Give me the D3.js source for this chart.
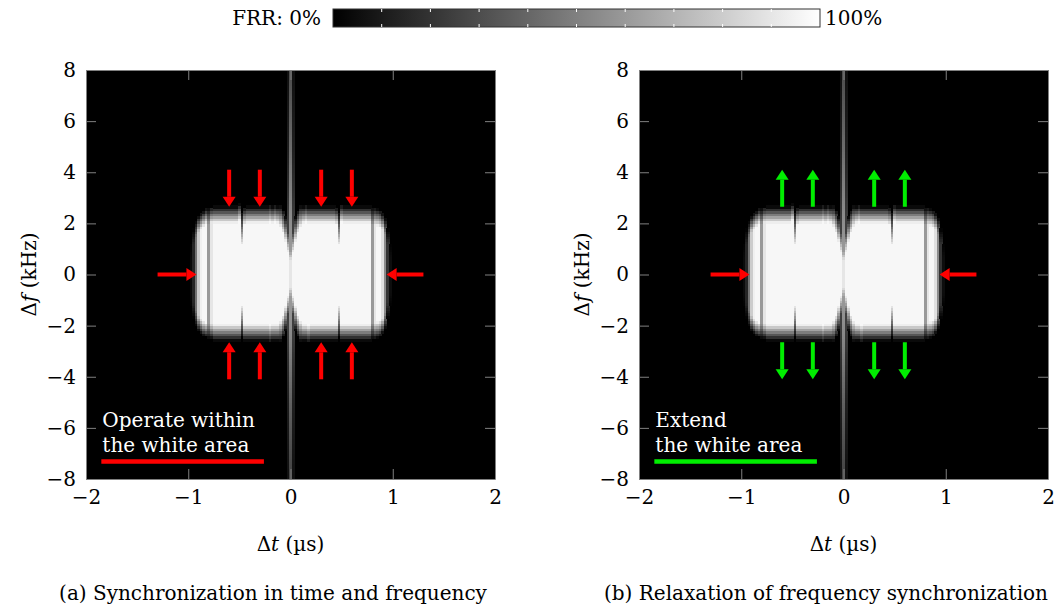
<!DOCTYPE html>
<html>
<head>
<meta charset="utf-8">
<script src="https://cdn.jsdelivr.net/npm/d3@7"></script>
<style>
  body { margin: 0; background: #fff; }
  text { font-family: "DejaVu Serif", serif; font-size: 20px; fill: #000; }
</style>
</head>
<body>
<svg id="chart" width="1059" height="608"></svg>
<script>
// ticks
const timeTicks = [-2, -1, 0, 1, 2];
const freqTicks = [-8, -6, -4, -2, 0, 2, 4, 6, 8];
const frrTicks = [0, 10, 20, 30, 40, 50, 60, 70, 80, 90, 100];

// white area, read column by column (dt = -1 ... 1 us, step 0.025 us)
// FRR inside the area (%)
const colLevel = [
  0, 4, 15, 45, 80, 94, 97, 97, 60, 90,     // -1.000 .. -0.775
  97, 97, 97, 97, 97, 97, 97, 97, 97, 97,   // -0.750 .. -0.525
  97, 97, 97, 97, 97, 97, 97, 97, 97, 97,   // -0.500 .. -0.275
  97, 97, 97, 97, 97, 97, 97, 97, 97, 97,   // -0.250 .. -0.025
  90,                                       //  0
  97, 97, 97, 97, 97, 97, 97, 97, 97, 97,   //  0.025 .. 0.250
  97, 97, 97, 97, 97, 97, 97, 97, 97, 97,   //  0.275 .. 0.500
  97, 97, 97, 97, 97, 97, 97, 97, 97, 97,   //  0.525 .. 0.750
  97, 60, 90, 97, 97, 88, 55, 20, 5, 0      //  0.775 .. 1.000
];
// upper edge of the white area (kHz, half level)
const colTop = [
  0, 1.0, 1.5, 1.8, 2.0, 2.1, 2.2, 2.3, 2.3, 2.35,
  2.35, 2.35, 2.35, 2.35, 2.35, 2.35, 2.35, 2.35, 2.35, 2.35,
  2.45, 1.8, 2.3, 2.35, 2.35, 2.35, 2.35, 2.35, 2.35, 2.35,
  2.35, 2.35, 2.4, 2.35, 2.4, 2.35, 2.3, 2.1, 1.8, 1.4,
  1.1,
  1.4, 1.8, 2.1, 2.3, 2.35, 2.4, 2.35, 2.35, 2.35, 2.35,
  2.35, 2.35, 2.35, 2.35, 2.35, 2.35, 2.35, 2.3, 1.8, 2.4,
  2.35, 2.35, 2.35, 2.35, 2.35, 2.35, 2.35, 2.35, 2.35, 2.35,
  2.35, 2.3, 2.3, 2.25, 2.2, 2.1, 1.9, 1.5, 1.0, 0
];
// lower edge of the white area (kHz, half level)
const colBot = [
  0, -1.0, -1.4, -1.7, -1.9, -2.0, -2.1, -2.15, -2.2, -2.2,
  -2.25, -2.25, -2.25, -2.25, -2.25, -2.25, -2.25, -2.25, -2.25, -2.25,
  -2.25, -1.8, -2.25, -2.25, -2.25, -2.25, -2.25, -2.25, -2.25, -2.25,
  -2.25, -2.25, -2.3, -2.25, -2.25, -2.25, -2.2, -2.0, -1.7, -1.3,
  -1.0,
  -1.3, -1.7, -2.0, -2.2, -2.25, -2.25, -2.3, -2.25, -2.25, -2.25,
  -2.25, -2.25, -2.25, -2.25, -2.25, -2.25, -2.25, -2.25, -1.8, -2.25,
  -2.25, -2.25, -2.25, -2.25, -2.25, -2.25, -2.25, -2.25, -2.25, -2.25,
  -2.25, -2.2, -2.2, -2.15, -2.1, -2.0, -1.8, -1.4, -1.0, 0
];
// width of the fuzzy border (kHz)
const colSoft = [
  0.6, 0.6, 0.6, 0.6, 0.6, 0.6, 0.6, 0.6, 0.6, 0.6,
  0.65, 0.65, 0.65, 0.65, 0.65, 0.65, 0.65, 0.65, 0.65, 0.65,
  0.65, 1.3, 0.65, 0.65, 0.65, 0.65, 0.65, 0.65, 0.65, 0.65,
  0.65, 0.65, 0.65, 0.65, 0.65, 0.65, 0.8, 0.9, 1.0, 1.0,
  1.0,
  1.0, 1.0, 0.9, 0.8, 0.65, 0.65, 0.65, 0.65, 0.65, 0.65,
  0.65, 0.65, 0.65, 0.65, 0.65, 0.65, 0.65, 0.65, 1.3, 0.65,
  0.65, 0.65, 0.65, 0.65, 0.65, 0.65, 0.65, 0.65, 0.65, 0.65,
  0.65, 0.65, 0.65, 0.65, 0.65, 0.6, 0.6, 0.6, 0.6, 0.6
];

// grey stripe along dt = 0 (FRR % at each kHz)
const stripeF = [-8, -7, -6, -5, -4, -3, -2, -1, 0, 1, 2, 3, 4, 5, 6, 7, 8];
const stripeMid = [26, 30, 34, 38, 44, 50, 55, 60, 65, 60, 56, 52, 48, 42, 38, 34, 30];
const stripeSide = [6, 8, 10, 12, 16, 20, 24, 26, 28, 26, 24, 20, 16, 12, 10, 8, 6];

// annotation arrows (data coords)
const vArrowT = [-0.6, -0.3, 0.3, 0.6];
const hArrows = [[-1.3, -0.92], [1.3, 0.94]];

const W = 1059, H = 608;
const svg = d3.select('#chart');
svg.append('rect').attr('width', W).attr('height', H).attr('fill', '#fff');

const gray = d3.scaleLinear().domain([0, 100]).range(['#000', '#fff']);
const midAt = d3.scaleLinear().domain(stripeF).range(stripeMid);
const sideAt = d3.scaleLinear().domain(stripeF).range(stripeSide);
const clamp = v => Math.max(0, Math.min(1, v));

const dT = 0.025, dF = 0.1;
const colT = colLevel.map((_, i) => -1 + i * dT);
const rowF = d3.range(160).map(i => -8 + dF / 2 + i * dF);

const cells = [];
colT.forEach((t, i) => {
  rowF.forEach(f => {
    const s = colSoft[i];
    const a = clamp((colTop[i] - f) / s + 0.5);
    const b = clamp((f - colBot[i]) / s + 0.5);
    let v = colLevel[i] * a * b;
    if (i === 40) v = Math.max(v, midAt(f));
    if (i === 39 || i === 41) v = Math.max(v, sideAt(f));
    if (v > 0.5) cells.push({t, f, v});
  });
});

// colour bar
const cb = d3.scaleLinear().domain([0, 100]).range([333, 820]);
const grad = svg.append('defs').append('linearGradient').attr('id', 'frr');
grad.selectAll('stop').data(frrTicks).join('stop')
  .attr('offset', d => d + '%')
  .attr('stop-color', d => gray(d));
svg.append('rect')
  .attr('x', cb(0)).attr('y', 9)
  .attr('width', cb(100) - cb(0)).attr('height', 18)
  .attr('fill', 'url(#frr)')
  .attr('stroke', '#333').attr('stroke-width', 1);
const inner = frrTicks.slice(1, -1);
svg.selectAll('line.cbt').data(inner).join('line')
  .attr('class', 'cbt')
  .attr('x1', d => cb(d)).attr('x2', d => cb(d))
  .attr('y1', 9).attr('y2', 12)
  .attr('stroke', '#fff').attr('stroke-width', 1);
svg.selectAll('line.cbb').data(inner).join('line')
  .attr('class', 'cbb')
  .attr('x1', d => cb(d)).attr('x2', d => cb(d))
  .attr('y1', 24).attr('y2', 27)
  .attr('stroke', '#fff').attr('stroke-width', 1);
svg.append('text').attr('x', 321).attr('y', 25).attr('text-anchor', 'end').text('FRR: 0%');
svg.append('text').attr('x', 825).attr('y', 25).text('100%');

function arrow(g, x1, y1, x2, y2, color) {
  const ang = Math.atan2(y2 - y1, x2 - x1);
  const hl = 10, hw = 6.5;
  const bx = x2 - hl * Math.cos(ang), by = y2 - hl * Math.sin(ang);
  g.append('line')
    .attr('x1', x1).attr('y1', y1).attr('x2', bx).attr('y2', by)
    .attr('stroke', color).attr('stroke-width', 4);
  const px = -Math.sin(ang) * hw, py = Math.cos(ang) * hw;
  g.append('path')
    .attr('d', `M${x2},${y2}L${bx + px},${by + py}L${bx - px},${by - py}Z`)
    .attr('fill', color);
}

const panels = [
  {left: 86, cap: '(a) Synchronization in time and frequency', capX: 273,
   lines: ['Operate within', 'the white area'], mark: '#ff0000', vColor: '#ff0000', outward: false},
  {left: 639, cap: '(b) Relaxation of frequency synchronization', capX: 826,
   lines: ['Extend', 'the white area'], mark: '#00ee00', vColor: '#00ee00', outward: true}
];

const fmt = d3.format('d');

panels.forEach(p => {
  const x = d3.scaleLinear().domain([-2, 2]).range([p.left, p.left + 409]);
  const y = d3.scaleLinear().domain([-8, 8]).range([479, 70]);
  const g = svg.append('g');

  g.append('rect')
    .attr('x', x(-2)).attr('y', y(8))
    .attr('width', x(2) - x(-2)).attr('height', y(-8) - y(8))
    .attr('fill', '#000');

  const cw = x(dT) - x(0), ch = y(0) - y(dF);
  g.append('g').attr('shape-rendering', 'crispEdges')
    .selectAll('rect').data(cells).join('rect')
    .attr('x', d => x(d.t - dT / 2))
    .attr('y', d => y(d.f + dF / 2))
    .attr('width', cw + 0.6)
    .attr('height', ch + 0.6)
    .attr('fill', d => gray(d.v));

  // axes, ticks pointing inward on all four sides
  const styleAxis = a => {
    a.attr('font-family', null).attr('font-size', null);
    a.selectAll('line').attr('stroke', '#808080');
    a.select('.domain').attr('stroke', '#808080');
  };
  g.append('g').attr('transform', `translate(0,${y(-8)})`)
    .call(d3.axisBottom(x).tickValues(timeTicks).tickFormat(fmt).tickSizeInner(-10).tickSizeOuter(0).tickPadding(11))
    .call(styleAxis);
  g.append('g').attr('transform', `translate(0,${y(8)})`)
    .call(d3.axisTop(x).tickValues(timeTicks).tickSizeInner(-10).tickSizeOuter(0).tickFormat(''))
    .call(styleAxis);
  g.append('g').attr('transform', `translate(${x(-2)},0)`)
    .call(d3.axisLeft(y).tickValues(freqTicks).tickFormat(fmt).tickSizeInner(-10).tickSizeOuter(0).tickPadding(10))
    .call(styleAxis);
  g.append('g').attr('transform', `translate(${x(2)},0)`)
    .call(d3.axisRight(y).tickValues(freqTicks).tickSizeInner(-10).tickSizeOuter(0).tickFormat(''))
    .call(styleAxis);

  // axis titles
  const xt = g.append('text').attr('x', x(0)).attr('y', 551).attr('text-anchor', 'middle');
  xt.append('tspan').text('Δ');
  xt.append('tspan').attr('font-style', 'italic').text('t');
  xt.append('tspan').text(' (µs)');
  const yt = g.append('text')
    .attr('transform', `translate(${p.left - 50},${y(0)}) rotate(-90)`)
    .attr('text-anchor', 'middle');
  yt.append('tspan').text('Δ');
  yt.append('tspan').attr('font-style', 'italic').text('f');
  yt.append('tspan').text(' (kHz)');

  // caption
  g.append('text').attr('x', p.capX).attr('y', 600).attr('text-anchor', 'middle').text(p.cap);

  // arrows
  vArrowT.forEach(t => {
    if (p.outward) {
      arrow(g, x(t), y(2.65), x(t), y(4.1), p.vColor);
      arrow(g, x(t), y(-2.65), x(t), y(-4.1), p.vColor);
    } else {
      arrow(g, x(t), y(4.1), x(t), y(2.65), p.vColor);
      arrow(g, x(t), y(-4.1), x(t), y(-2.65), p.vColor);
    }
  });
  hArrows.forEach(([t0, t1]) => arrow(g, x(t0), y(0), x(t1), y(0), '#ff0000'));

  // note in the lower left corner
  g.selectAll('text.note').data(p.lines).join('text')
    .attr('class', 'note')
    .attr('x', x(-1.84))
    .attr('y', (d, i) => y(-5.97) + i * 25)
    .style('fill', '#fff')
    .text(d => d);
  g.append('line')
    .attr('x1', x(-1.85)).attr('x2', x(-0.26))
    .attr('y1', y(-7.32)).attr('y2', y(-7.32))
    .attr('stroke', p.mark).attr('stroke-width', 4.5);
});
</script>
</body>
</html>
